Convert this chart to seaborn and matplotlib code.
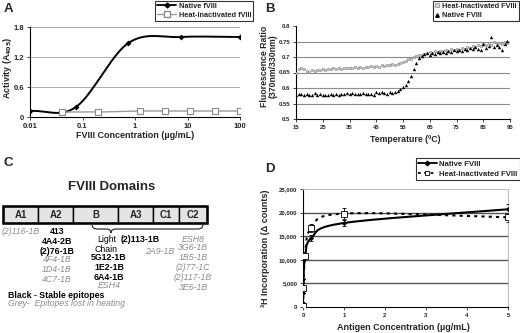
import numpy as np
import pandas as pd
import matplotlib
matplotlib.use("Agg")
import matplotlib.pyplot as plt
from matplotlib.patches import Rectangle, PathPatch
from matplotlib.path import Path
from matplotlib.lines import Line2D
import seaborn as sns

sns.set_theme(style="white")
plt.rcParams['font.family'] = ['Liberation Sans', 'DejaVu Sans']

# ---------------- data ----------------
# Panel A
a_native_x = [0.01, 0.075, 0.75, 7.5, 100]
a_native_y = [0.12, 0.20, 1.48, 1.60, 1.60]
a_heat_x = [0.04, 0.2, 1.23, 3.7, 11.1, 33.3, 100]
a_heat_y = [0.10, 0.10, 0.12, 0.12, 0.12, 0.12, 0.12]

# Panel B (temperature 15..94 degC, 1 degC steps)
b_temp = list(range(15, 95))
b_native = [0.578, 0.582, 0.580, 0.576, 0.581, 0.579, 0.577, 0.583, 0.578, 0.580,
            0.576, 0.579, 0.577, 0.580, 0.578, 0.581, 0.579, 0.582, 0.580, 0.583,
            0.581, 0.583, 0.580, 0.582, 0.581, 0.583, 0.580, 0.582, 0.581, 0.579,
            0.586, 0.583, 0.587, 0.584, 0.582, 0.586, 0.584, 0.588, 0.591, 0.596,
            0.603, 0.610, 0.622, 0.640, 0.662, 0.682, 0.697, 0.704, 0.709, 0.712,
            0.708, 0.713, 0.711, 0.715, 0.712, 0.717, 0.713, 0.719, 0.716, 0.722,
            0.718, 0.724, 0.720, 0.727, 0.722, 0.730, 0.725, 0.733, 0.727, 0.722,
            0.741, 0.729, 0.737, 0.763, 0.731, 0.740, 0.733, 0.724, 0.742, 0.752]
b_heat = [0.648, 0.662, 0.664, 0.661, 0.655, 0.652, 0.657, 0.655, 0.659, 0.657,
          0.660, 0.658, 0.662, 0.660, 0.663, 0.661, 0.664, 0.662, 0.665, 0.663,
          0.666, 0.664, 0.667, 0.665, 0.668, 0.666, 0.669, 0.667, 0.670, 0.668,
          0.671, 0.669, 0.673, 0.671, 0.675, 0.673, 0.677, 0.675, 0.679, 0.681,
          0.684, 0.688, 0.692, 0.695, 0.699, 0.702, 0.705, 0.708, 0.711, 0.713,
          0.716, 0.714, 0.718, 0.716, 0.720, 0.718, 0.722, 0.720, 0.725, 0.722,
          0.727, 0.724, 0.729, 0.726, 0.731, 0.728, 0.735, 0.731, 0.738, 0.734,
          0.742, 0.738, 0.745, 0.740, 0.747, 0.742, 0.746, 0.743, 0.747, 0.745]

# Panel D
d_native_x = [0, 0.005, 0.01, 0.05, 0.2, 1, 5]
d_native_y = [800, 3000, 6000, 10500, 14600, 17800, 20700]
d_native_err = [0, 0, 0, 0, 600, 700, 1100]
d_heat_x = [0, 0.01, 0.05, 0.2, 1, 5]
d_heat_y = [200, 4000, 10700, 16700, 19800, 19000]
d_heat_err = [0, 0, 0, 800, 1100, 1000]

# Panel C text
c_domains = ["A1", "A2", "B", "A3", "C1", "C2"]
c_bounds = [3, 38, 73, 118, 153, 179, 207]

W, H = 520, 333


def fx(x):
    return x / W


def fy(y):
    return 1 - y / H


def smooth(x, y, sx, sy, n=40):
    """Excel-like smoothed line (Catmull-Rom in screen space)."""
    pts = np.column_stack([np.asarray(x, float) * sx, np.asarray(y, float) * sy])
    P = np.vstack([2 * pts[0] - pts[1], pts, 2 * pts[-1] - pts[-2]])
    out = []
    t = np.linspace(0, 1, n, endpoint=False)[:, None]
    for i in range(1, len(P) - 2):
        p0, p1, p2, p3 = P[i - 1], P[i], P[i + 1], P[i + 2]
        seg = 0.5 * ((2 * p1) + (-p0 + p2) * t + (2 * p0 - 5 * p1 + 4 * p2 - p3) * t ** 2
                     + (-p0 + 3 * p1 - 3 * p2 + p3) * t ** 3)
        out.append(seg)
    out.append(pts[-1:])
    s = np.vstack(out)
    return s[:, 0] / sx, s[:, 1] / sy


fig = plt.figure(figsize=(5.2, 3.33), dpi=100)
fig.patch.set_facecolor("white")

# ---------------- Panel A ----------------
axA = fig.add_axes([fx(30), fy(117), fx(210), 90 / H])
axA.set_facecolor("white")
axA.set_xscale("log")
lx, ly = smooth(np.log10(a_native_x), a_native_y, 52.5, 50)
sns.lineplot(x=10 ** lx, y=ly, ax=axA, color="black", lw=1.4, sort=False, estimator=None)
sns.scatterplot(x=a_native_x, y=a_native_y, ax=axA, marker="D", s=9, color="black",
                edgecolor="black", linewidth=0, zorder=4)
hx, hy = smooth(np.log10(a_heat_x), a_heat_y, 52.5, 50)
sns.lineplot(x=10 ** hx, y=hy, ax=axA, color="#9a9a9a", lw=1.0, sort=False, estimator=None)
sns.scatterplot(x=a_heat_x, y=a_heat_y, ax=axA, marker="s", s=16, color="white",
                edgecolor="#8a8a8a", linewidth=0.8, zorder=4)
axA.set_xlim(0.01, 100)
axA.set_ylim(0, 1.8)
axA.set_yticks([0, 0.6, 1.2, 1.8])
axA.set_yticklabels(["0", "0.6", "1.2", "1.8"])
axA.set_xticks([0.01, 0.1, 1, 10, 100])
axA.set_xticklabels(["0.01", "0.1", "1", "10", "100"])
axA.minorticks_off()
axA.yaxis.grid(True, color="#b0b0b0", lw=0.7)
axA.set_axisbelow(True)
for s in ["top", "right"]:
    axA.spines[s].set_visible(False)
for s in ["left", "bottom"]:
    axA.spines[s].set_color("black")
    axA.spines[s].set_linewidth(0.8)
axA.tick_params(axis="both", labelsize=5.5, length=2, width=0.6, direction="out", pad=2,
                bottom=True, left=True)
for lab in axA.get_xticklabels() + axA.get_yticklabels():
    lab.set_fontweight("bold")
axA.set_xlabel("FVIII Concentration (µg/mL)", fontsize=6.5, fontweight="bold")
axA.set_ylabel("Activity (A$_{\\mathbf{405}}$)", fontsize=6.5, fontweight="bold")
axA.xaxis.set_label_coords(fx(135), fy(135), transform=fig.transFigure)
axA.xaxis.label.set_va("center")
axA.yaxis.set_label_coords(fx(8), fy(68), transform=fig.transFigure)
axA.yaxis.label.set_va("center")
hA = [Line2D([], [], color="black", lw=1.3, marker="D", ms=2.5),
      Line2D([], [], color="#9a9a9a", lw=1.0, marker="s", ms=4, mfc="white", mec="#8a8a8a")]
legA = axA.legend(hA, ["Native fVIII", "Heat-Inactivated fVIII"], loc="upper left",
                  bbox_to_anchor=(fx(155), fy(0.5)), bbox_transform=fig.transFigure,
                  fontsize=5.3, frameon=True, fancybox=False, edgecolor="black",
                  borderpad=0.3, labelspacing=0.25, handlelength=2.6, handletextpad=0.3,
                  borderaxespad=0)
legA.get_frame().set_linewidth(0.8)
for t in legA.get_texts():
    t.set_fontweight("bold")

# ---------------- Panel B ----------------
axB = fig.add_axes([fx(296), fy(119), fx(214), 93 / H])
axB.set_facecolor("white")
dfB = pd.DataFrame({"T": b_temp * 2, "ratio": b_heat + b_native,
                    "series": ["Heat-Inactivated FVIII"] * len(b_temp) + ["Native FVIII"] * len(b_temp)})
sns.scatterplot(data=dfB[dfB.series == "Heat-Inactivated FVIII"], x="T", y="ratio", ax=axB,
                marker="s", s=4.5, color="#d0d0d0", edgecolor="#8a8a8a", linewidth=0.45, zorder=3)
sns.scatterplot(data=dfB[dfB.series == "Native FVIII"], x="T", y="ratio", ax=axB,
                marker="^", s=6, color="black", edgecolor="black", linewidth=0, zorder=4)
axB.set_xlim(15, 95)
axB.set_ylim(0.5, 0.8)
axB.set_xticks(range(15, 96, 10))
axB.set_yticks([0.5, 0.55, 0.6, 0.65, 0.7, 0.75, 0.8])
axB.set_yticklabels(["0.5", "0.55", "0.6", "0.65", "0.7", "0.75", "0.8"])
for yv in [0.55, 0.6, 0.65, 0.7, 0.75]:
    axB.axhline(yv, color="#8c8c8c", lw=0.8, zorder=1)
for s in ["top", "right"]:
    axB.spines[s].set_visible(False)
for s in ["left", "bottom"]:
    axB.spines[s].set_color("black")
    axB.spines[s].set_linewidth(0.8)
axB.tick_params(axis="both", labelsize=4.3, length=2, width=0.6, direction="out", pad=2,
                bottom=True, left=True)
for lab in axB.get_xticklabels() + axB.get_yticklabels():
    lab.set_fontweight("bold")
axB.set_xlabel("Temperature (ºC)", fontsize=6.3, fontweight="bold")
axB.set_ylabel("Fluorescence Ratio\n(370nm/330nm)", fontsize=6.3, fontweight="bold",
               linespacing=1.0)
axB.xaxis.set_label_coords(fx(405), fy(139), transform=fig.transFigure)
axB.xaxis.label.set_va("center")
axB.yaxis.set_label_coords(fx(269), fy(66), transform=fig.transFigure)
axB.yaxis.label.set_va("center")
hB = [Line2D([], [], ls="none", marker="s", ms=2.2, mfc="#d0d0d0", mec="#8a8a8a", mew=0.5),
      Line2D([], [], ls="none", marker="^", ms=2.5, color="black")]
legB = axB.legend(hB, ["Heat-Inactivated FVIII", "Native FVIII"], loc="upper right",
                  bbox_to_anchor=(fx(519), fy(0.5)), bbox_transform=fig.transFigure,
                  fontsize=5.3, frameon=True, fancybox=False, edgecolor="black",
                  borderpad=0.3, labelspacing=0.3, handlelength=0.6, handletextpad=0.4,
                  borderaxespad=0)
legB.get_frame().set_linewidth(0.8)
for t in legB.get_texts():
    t.set_fontweight("bold")

# ---------------- Panel D ----------------
axD = fig.add_axes([fx(303), fy(307), fx(205), 118 / H])
axD.set_facecolor("white")
nx, ny = smooth(d_native_x, d_native_y, 41.0, 117.4 / 25000)
sns.lineplot(x=nx, y=ny, ax=axD, color="black", lw=1.5, sort=False, estimator=None, zorder=3)
hx2, hy2 = smooth(d_heat_x, d_heat_y, 41.0, 117.4 / 25000)
axD.plot(hx2, hy2, color="black", lw=1.5, ls=(0, (1.5, 2.0)), zorder=3)
axD.errorbar(d_native_x, d_native_y, yerr=d_native_err, fmt="none", ecolor="black",
             elinewidth=0.6, capsize=1.5, capthick=0.6, zorder=4)
axD.errorbar(d_heat_x, d_heat_y, yerr=d_heat_err, fmt="none", ecolor="black",
             elinewidth=0.6, capsize=1.5, capthick=0.6, zorder=4)
sns.scatterplot(x=d_native_x, y=d_native_y, ax=axD, marker="D", s=7, color="black",
                edgecolor="black", linewidth=0, zorder=5)
sns.scatterplot(x=d_heat_x, y=d_heat_y, ax=axD, marker="s", s=16, color="white",
                edgecolor="black", linewidth=0.6, zorder=6)
axD.set_xlim(0, 5)
axD.set_ylim(0, 25000)
axD.set_yticks(range(0, 25001, 5000))
axD.set_yticklabels(["0", "5,000", "10,000", "15,000", "20,000", "25,000"])
axD.set_xticks(range(0, 6))
for yv in [5000, 10000, 15000, 20000]:
    axD.axhline(yv, color="#555555", lw=1.0, zorder=1)
for s in ["top", "right"]:
    axD.spines[s].set_color("#bdbdbd")
    axD.spines[s].set_linewidth(0.8)
for s in ["left", "bottom"]:
    axD.spines[s].set_color("black")
    axD.spines[s].set_linewidth(0.8)
axD.tick_params(axis="both", labelsize=4.3, length=2, width=0.6, direction="out", pad=2,
                bottom=True, left=True)
for lab in axD.get_xticklabels() + axD.get_yticklabels():
    lab.set_fontweight("bold")
axD.set_xlabel("Antigen Concentration (µg/mL)", fontsize=6.5, fontweight="bold")
axD.set_ylabel("³H Incorporation (Δ counts)", fontsize=6.5, fontweight="bold")
axD.xaxis.set_label_coords(fx(403), fy(327), transform=fig.transFigure)
axD.xaxis.label.set_va("center")
axD.yaxis.set_label_coords(fx(265), fy(248), transform=fig.transFigure)
axD.yaxis.label.set_va("center")
hD = [Line2D([], [], color="black", lw=1.3, marker="D", ms=2.3),
      Line2D([], [], color="black", lw=1.3, ls=(0, (1.5, 2.0)), marker="s", ms=3.5,
             mfc="white", mec="black", mew=0.6)]
legD = axD.legend(hD, ["Native FVIII", "Heat-Inactivated FVIII"], loc="upper right",
                  bbox_to_anchor=(fx(519.5), fy(158)), bbox_transform=fig.transFigure,
                  fontsize=5.6, frameon=True, fancybox=False, edgecolor="black",
                  borderpad=0.3, labelspacing=0.3, handlelength=2.4, handletextpad=0.3,
                  borderaxespad=0)
legD.get_frame().set_linewidth(0.8)
for t in legD.get_texts():
    t.set_fontweight("bold")

# ---------------- Panel C (diagram) + panel letters ----------------
axC = fig.add_axes([0, 0, 1, 1], zorder=-1)
axC.set_xlim(0, W)
axC.set_ylim(H, 0)
axC.axis("off")

for lab, (xp, yp) in zip("ABCD", [(8, 9), (270, 9), (8, 163), (270, 169)]):
    axC.text(xp, yp, lab, fontsize=9.5, fontweight="bold", ha="center", va="center")

axC.text(112, 187, "FVIII Domains", fontsize=9.5, fontweight="bold", ha="center", va="center")
for i, name in enumerate(c_domains):
    x0, x1 = c_bounds[i], c_bounds[i + 1]
    axC.add_patch(Rectangle((x0, 206), x1 - x0, 17, facecolor="#e4e4e4",
                            edgecolor="black", lw=1.0))
    axC.text((x0 + x1) / 2, 214.5, name, fontsize=7, fontweight="bold",
             ha="center", va="center")
axC.add_patch(Rectangle((c_bounds[0], 206), c_bounds[-1] - c_bounds[0], 17,
                        facecolor="none", edgecolor="black", lw=1.8))

# brace
verts = [(92, 224), (92, 229), (97, 229), (106, 229), (111, 229), (111, 233),
         (111, 229), (116, 229), (198, 229), (203, 229), (203, 224)]
codes = [Path.MOVETO, Path.CURVE3, Path.CURVE3, Path.LINETO, Path.CURVE3, Path.CURVE3,
         Path.CURVE3, Path.CURVE3, Path.LINETO, Path.CURVE3, Path.CURVE3]
axC.add_patch(PathPatch(Path(verts, codes), facecolor="none", edgecolor="#333333", lw=0.9))

grey = "#8c8c8c"
fs = 6.3
blk = dict(fontsize=fs, fontweight="bold", color="black", ha="center", va="center")
gry = dict(fontsize=fs, fontstyle="italic", color=grey, ha="center", va="center")
axC.text(21, 232, "(2)116-1B", **gry)
axC.text(57, 232, "413", **blk)
axC.text(57, 241, "4A4-2B", **blk)
axC.text(57, 251, "(2)76-1B", **blk)
axC.text(57, 260, "4F4-1B", **gry)
axC.text(57, 270, "1D4-1B", **gry)
axC.text(57, 279, "4C7-1B", **gry)
axC.text(107, 240, "Light", fontsize=fs, color="black", ha="center", va="center")
axC.text(106, 249, "Chain", fontsize=fs, color="black", ha="center", va="center")
axC.text(140, 240, "(2)113-1B", **blk)
axC.text(160, 251, "2A9-1B", **gry)
axC.text(109, 258, "5G12-1B", **blk)
axC.text(109, 268, "1E2-1B", **blk)
axC.text(109, 277, "6A4-1B", **blk)
axC.text(109, 286, "ESH4", **gry)
for yy, t in zip([239, 248, 258, 267, 277, 287],
                 ["ESH8", "3G6-1B", "1B5-1B", "(2)77-1C", "(2)117-1B", "3E6-1B"]):
    axC.text(193, yy, t, **gry)
axC.text(8, 295, "Black - Stable epitopes", fontsize=fs, fontweight="bold", color="black",
         ha="left", va="center")
axC.text(8, 304, "Grey-  Epitopes lost in heating", fontsize=fs, fontstyle="italic",
         color=grey, ha="left", va="center")

fig.savefig("out.png", dpi=100, facecolor="white")
